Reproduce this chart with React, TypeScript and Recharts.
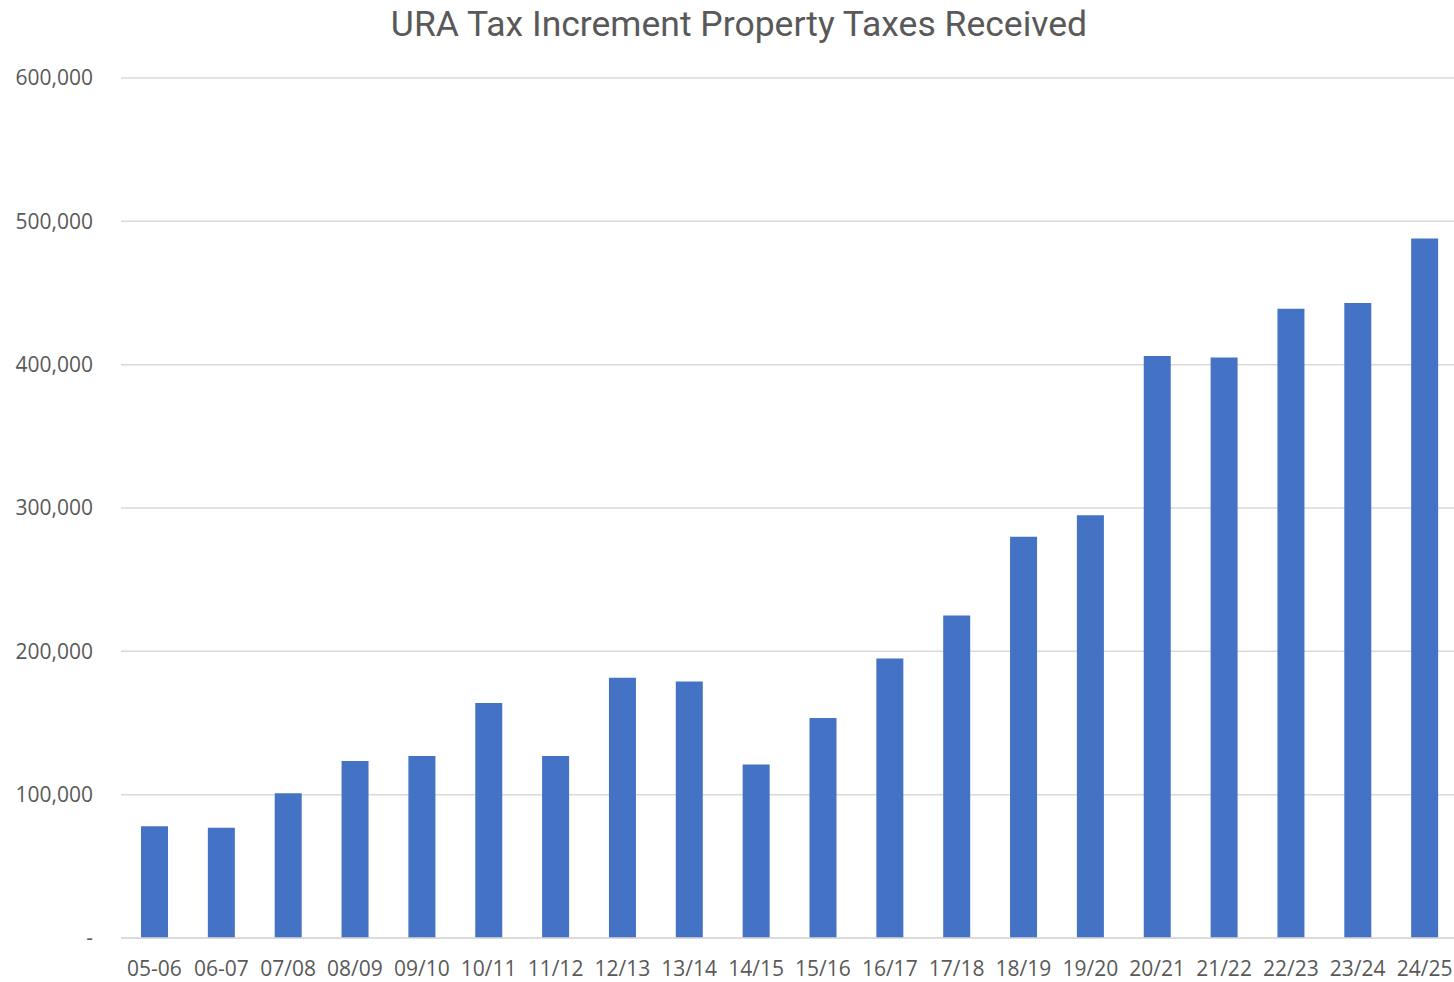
import { Bar, BarChart, CartesianGrid, XAxis, YAxis } from "recharts";

const years = [
  "05-06", "06-07", "07/08", "08/09", "09/10", "10/11", "11/12", "12/13", "13/14", "14/15",
  "15/16", "16/17", "17/18", "18/19", "19/20", "20/21", "21/22", "22/23", "23/24", "24/25",
];

const taxesReceived = [
  78000, 77000, 101000, 123500, 127000, 164000, 127000, 181500, 179000, 121000,
  153500, 195000, 225000, 280000, 295000, 406000, 405000, 439000, 443000, 488000,
];

const yTicks = [0, 100000, 200000, 300000, 400000, 500000, 600000];

const data = years.map((year, i) => ({ year, received: taxesReceived[i] }));

const textColor = "#595959";
const font = "'Open Sans', sans-serif";

const formatTick = (v: number) => (v === 0 ? "-" : v.toLocaleString("en-US"));

export default function App() {
  return (
    <div style={{ position: "absolute", left: 0, top: 0, width: 1454, height: 982, overflow: "hidden", background: "#fff" }}>
      <BarChart
        width={1458}
        height={982}
        data={data}
        margin={{ top: 78, right: 0, bottom: 0, left: 0 }}
      >
        <text
          x={739}
          y={36}
          textAnchor="middle"
          fill={textColor}
          style={{ fontFamily: "Roboto, sans-serif", fontSize: 35.5 }}
        >
          URA Tax Increment Property Taxes Received
        </text>
        <CartesianGrid vertical={false} stroke="#d9d9d9" strokeWidth={1.5} />
        <XAxis
          dataKey="year"
          height={44}
          interval={0}
          stroke="#d9d9d9"
          strokeWidth={1.5}
          tickLine={false}
          tickSize={0}
          tickMargin={23}
          tick={{ fill: textColor, fontSize: 21, fontFamily: font }}
        />
        <YAxis
          width={121}
          domain={[0, 600000]}
          ticks={yTicks}
          axisLine={false}
          tickLine={false}
          tickSize={0}
          tickMargin={28}
          tickFormatter={formatTick}
          tick={{ fill: textColor, fontSize: 21, fontFamily: font }}
        />
        <Bar dataKey="received" fill="#4472C4" barSize={27} isAnimationActive={false} />
      </BarChart>
    </div>
  );
}
